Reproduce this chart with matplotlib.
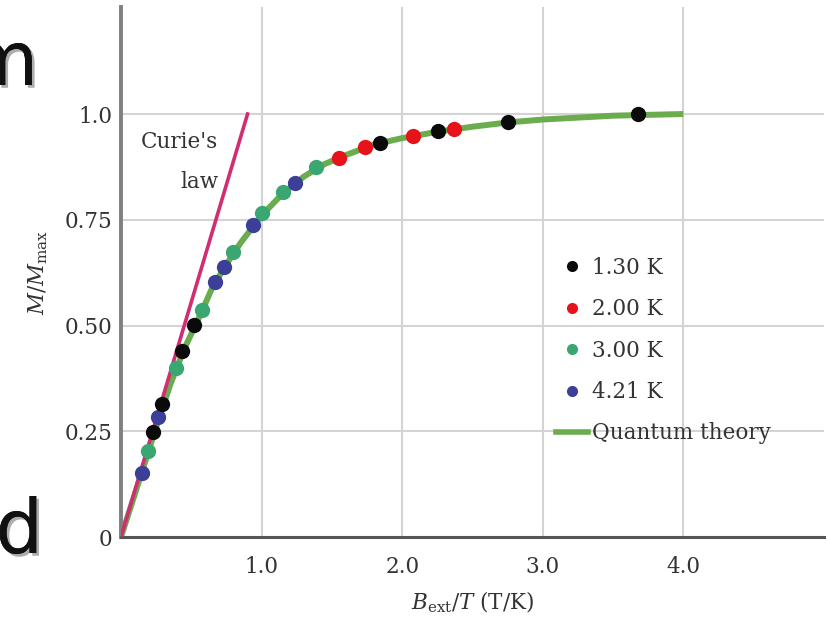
import matplotlib
matplotlib.use("Agg")
import matplotlib.pyplot as plt
import matplotlib.patheffects as pe
from matplotlib.lines import Line2D

# ---- data ----
x_130 = [0.23, 0.29, 0.432, 0.522, 1.843, 2.258, 2.75, 3.68]
y_130 = [0.249, 0.314, 0.440, 0.501, 0.932, 0.960, 0.982, 0.999]

x_200 = [1.554, 1.737, 2.08, 2.37]
y_200 = [0.897, 0.921, 0.948, 0.965]

x_300 = [0.19, 0.389, 0.574, 0.80, 1.001, 1.155, 1.388]
y_300 = [0.203, 0.399, 0.537, 0.674, 0.765, 0.816, 0.874]

x_421 = [0.147, 0.266, 0.669, 0.736, 0.937, 1.238]
y_421 = [0.152, 0.283, 0.604, 0.639, 0.738, 0.836]

theory_x = [0.0, 0.15, 0.25, 0.35, 0.45, 0.55, 0.65, 0.75, 0.85, 1.0, 1.15,
            1.3, 1.45, 1.6, 1.8, 2.0, 2.25, 2.5, 2.75, 3.0, 3.5, 4.0]
theory_y = [0.0, 0.155, 0.26, 0.36, 0.445, 0.515, 0.59, 0.645, 0.695, 0.76,
            0.812, 0.852, 0.882, 0.903, 0.928, 0.943, 0.958, 0.970, 0.980,
            0.987, 0.996, 1.0]

curie_x = [0.0, 0.9]
curie_y = [0.0, 1.0]

x_ticks = [1.0, 2.0, 3.0, 4.0]
x_ticklabels = ["1.0", "2.0", "3.0", "4.0"]
y_ticks = [0.0, 0.25, 0.50, 0.75, 1.0]
y_ticklabels = ["0", "0.25", "0.50", "0.75", "1.0"]

series_labels = ["1.30 K", "2.00 K", "3.00 K", "4.21 K"]

# ---- styling ----
plt.rcParams['font.family'] = ['DejaVu Serif']
plt.rcParams['mathtext.fontset'] = 'dejavuserif'
FS = 15.5
c_black, c_red, c_green, c_blue = '#0a0a0a', '#e8121a', '#3aa672', '#3b3f98'
c_theory, c_curie = '#6aac4e', '#d12d72'
txt = '#333333'

fig = plt.figure(figsize=(8.27, 6.27), dpi=100)
ax = fig.add_axes([121/827, 90/627, 703/827, 530/627])
ax.set_xlim(0, 5.0)
ax.set_ylim(0, 1.253)

ax.set_xticks(x_ticks)
ax.set_xticklabels(x_ticklabels)
ax.set_yticks(y_ticks)
ax.set_yticklabels(y_ticklabels)
ax.tick_params(axis='x', length=0, pad=14, labelsize=FS, labelcolor=txt)
ax.tick_params(axis='y', length=0, pad=6, labelsize=FS, labelcolor=txt)
ax.grid(True, color='#d4d4d4', linewidth=1.5, zorder=0)
ax.set_axisbelow(True)
for s in ['top', 'right']:
    ax.spines[s].set_visible(False)
ax.spines['left'].set_color('#808080')
ax.spines['left'].set_linewidth(2.8)
ax.spines['bottom'].set_color('#555555')
ax.spines['bottom'].set_linewidth(2.2)

ax.plot(theory_x, theory_y, color=c_theory, lw=4.3, solid_capstyle='butt',
        solid_joinstyle='round', zorder=2)
ax.plot(curie_x, curie_y, color=c_curie, lw=2.6, zorder=3)

ms = 11
for xs, ys, c in [(x_300, y_300, c_green), (x_421, y_421, c_blue),
                  (x_200, y_200, c_red), (x_130, y_130, c_black)]:
    ax.plot(xs, ys, 'o', color=c, ms=ms, mec='none', zorder=4)

ax.text(0.69, 0.92, "Curie's", ha='right', va='baseline', fontsize=FS, color=txt)
ax.text(0.69, 0.825, "law", ha='right', va='baseline', fontsize=FS, color=txt)

ax.set_xlabel(r"$B_{\mathrm{ext}}/T$ (T/K)", fontsize=FS, color=txt, labelpad=8)
ax.set_ylabel(r"$M/M_{\mathrm{max}}$", fontsize=FS, color=txt, labelpad=11)

handles = [Line2D([], [], ls='none', marker='o', color=c, ms=8, mec='none')
           for c in [c_black, c_red, c_green, c_blue]]
handles.append(Line2D([], [], color=c_theory, lw=4))
labels = series_labels + ["Quantum theory"]
ax.legend(handles, labels, loc='upper left', frameon=False, fontsize=FS,
          bbox_to_anchor=(556/827, 1 - 257/627), bbox_transform=fig.transFigure,
          borderpad=0, borderaxespad=0, handlelength=1.5, handletextpad=0.15,
          labelspacing=0.9, labelcolor=txt)

# cut-off slide text at the left edge
shadow = [pe.withSimplePatchShadow(offset=(2, -2), shadow_rgbFace='#999999', alpha=0.8),
          pe.Normal()]
fig.text(38/827, 1 - 85/627, "m", ha='right', va='baseline', fontsize=54,
         family='DejaVu Sans', color='#111111', path_effects=shadow)
fig.text(43/827, 1 - 553/627, "ld", ha='right', va='baseline', fontsize=54,
         family='DejaVu Sans', color='#111111', path_effects=shadow)

fig.savefig("out.png", dpi=100)
